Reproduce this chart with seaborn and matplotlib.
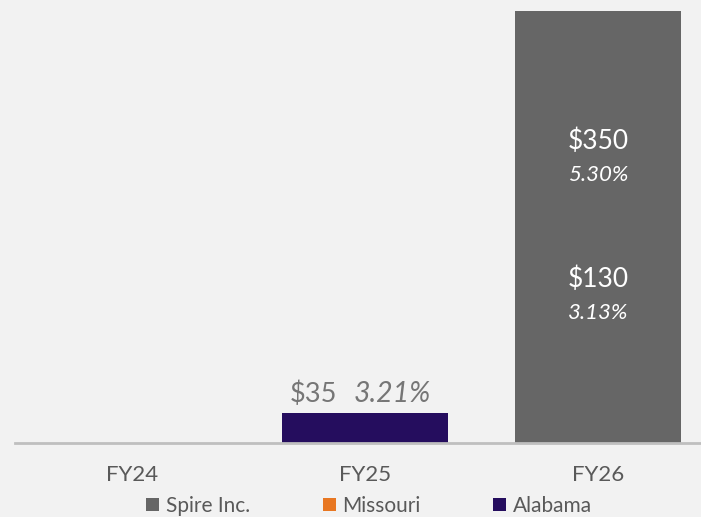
import matplotlib
matplotlib.use("Agg")
import matplotlib.pyplot as plt
from matplotlib.patches import Patch
import pandas as pd
import seaborn as sns

years = ["FY24", "FY25", "FY26"]
series = ["Spire Inc.", "Missouri", "Alabama"]
spire = [0, 0, 500]
missouri = [0, 0, 0]
alabama = [0, 35, 0]
colors = {"Spire Inc.": "#666666", "Missouri": "#E87722", "Alabama": "#250D5E"}

# labels inside the FY26 bar: (amount, percent, height as share of bar)
fy26_labels = [("$350", "5.30%", 0.70), ("$130", "3.13%", 0.38)]
fy25_label = ("$35", "3.21%")

BG = "#F2F2F2"
TXT = "#595959"

df = pd.DataFrame({
    "year": years * 3,
    "series": [s for s in series for _ in years],
    "value": spire + missouri + alabama,
})

sns.set_style("white")
plt.rcParams["font.family"] = ["Lato", "DejaVu Sans"]

fig = plt.figure(figsize=(7.01, 5.17), dpi=100, facecolor=BG)
ax = fig.add_axes([15 / 701, 74 / 517, 686 / 701, 443 / 517])
ax.set_facecolor(BG)

sns.barplot(data=df, x="year", y="value", hue="series", palette=colors,
            dodge=False, width=0.712, ax=ax, legend=False, saturation=1,
            linewidth=0, edgecolor="none")

ax.set_xlim(-0.5, -0.5 + 686 / 233.25)
ax.set_ylim(0, 513)
ax.set_xlabel("")
ax.set_ylabel("")
ax.set_yticks([])
for s in ["top", "right", "left"]:
    ax.spines[s].set_visible(False)
ax.spines["bottom"].set_color("#BFBFBF")
ax.spines["bottom"].set_linewidth(2)
ax.tick_params(axis="x", length=0, labelsize=16, labelcolor=TXT, pad=16)

# FY26 labels
top = spire[2]
for amt, pct, frac in fy26_labels:
    y = top * frac
    ax.text(2, y, amt, ha="center", va="center", color="white", fontsize=19)
    ax.text(2, y - 40, pct, ha="center", va="center", color="white",
            fontsize=16, style="italic")

# FY25 label
ax.annotate(fy25_label[0], (1, alabama[1]), xytext=(-20, 4),
            textcoords="offset points", ha="right", va="bottom",
            color="#767676", fontsize=19.5)
ax.annotate(fy25_label[1], (1, alabama[1]), xytext=(-8, 4),
            textcoords="offset points", ha="left", va="bottom",
            color="#767676", fontsize=20.5, style="italic")

handles = [Patch(facecolor=colors[s], edgecolor="none") for s in series]
fig.legend(handles, series, loc="center", bbox_to_anchor=(369 / 701, 1 - 506 / 517),
           ncol=3, frameon=False, fontsize=15, labelcolor=TXT,
           handlelength=0.63, handleheight=0.63, handletextpad=0.3,
           columnspacing=3.5, borderpad=0, borderaxespad=0)

fig.savefig("out.png", dpi=100, facecolor=BG)
